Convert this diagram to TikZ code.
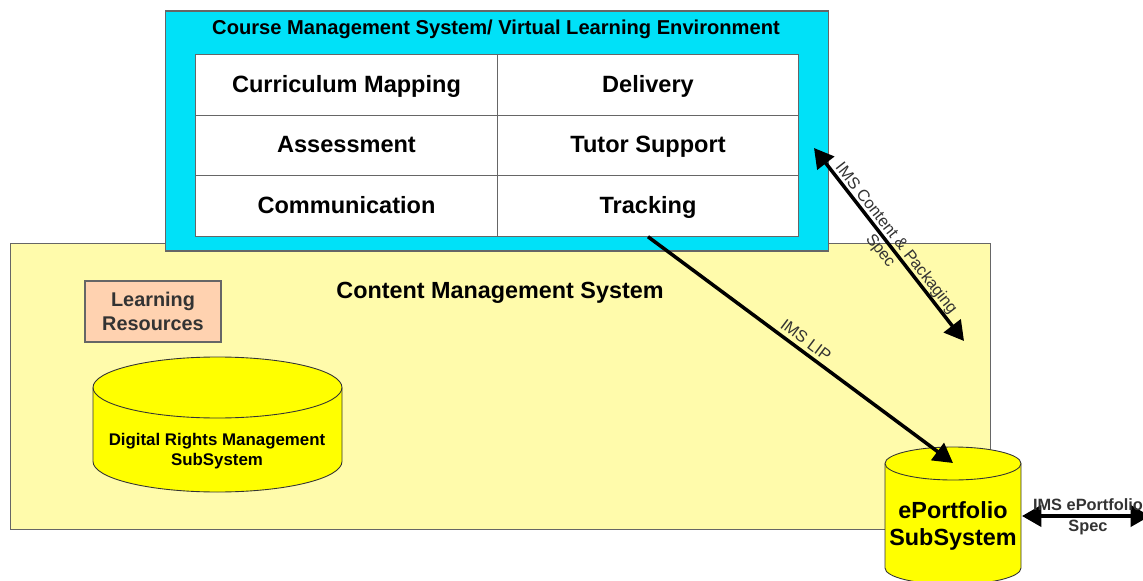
\documentclass[tikz,border=0pt]{standalone}
\usepackage{fontspec}
\setmainfont{Liberation Sans}
\usetikzlibrary{arrows.meta}
\definecolor{cmsblue}{HTML}{00E1F8}
\definecolor{cmspale}{HTML}{FFFBAB}
\definecolor{respeach}{HTML}{FFD2B0}
\definecolor{storeyellow}{HTML}{FFFF00}
\definecolor{edgegrey}{HTML}{666666}
\definecolor{labelgrey}{HTML}{333333}
\tikzset{
	panel/.style={draw=edgegrey,line width=0.6pt,inner sep=0pt},
	cell/.style={panel,fill=white,minimum width=171.6pt,minimum height=34.4pt,text height=10.4pt,text depth=2.4pt,font=\bfseries\fontsize{13.4}{16}\selectfont},
	store/.style={draw=black!80,line width=0.5pt,fill=storeyellow},
	storetext/.style={inner sep=0pt,align=center},
	flow/.style={line width=2pt,{Triangle[length=11pt,width=12pt]}-{Triangle[length=11pt,width=12pt]}},
	flowone/.style={line width=2pt,-{Triangle[length=11pt,width=12pt]}},
	spec/.style={text=labelgrey,align=center,font=\fontsize{9.3}{11.4}\selectfont,inner sep=0pt},
}
% centre x, top, bottom, half width, half height of the lid
\newcommand{\storedrum}[5]{
	\draw [store] (#1-#4,#2+#5) arc [start angle=180,end angle=360,x radius=#4,y radius=#5] -- (#1+#4,#3-#5) arc [start angle=0,end angle=180,x radius=#4,y radius=#5] -- cycle;
	\draw [store,fill=none] (#1-#4,#2+#5) arc [start angle=180,end angle=0,x radius=#4,y radius=#5];
}
\begin{document}
\begin{tikzpicture}[x=0.02cm,y=-0.02cm]
	\useasboundingbox (0,0) rectangle (1143,581);
	% outer boxes
	\node [panel,fill=cmspale,minimum width=558pt,minimum height=163.3pt] (content) at (500.5,386.5) {};
	\node [panel,fill=cmsblue,minimum width=377.8pt,minimum height=136.6pt] (course) at (497,131) {};
	\node [font=\bfseries\fontsize{11.45}{14}\selectfont] (coursetitle) at (496,29.5) {Course Management System/ Virtual Learning Environment};
	\node [font=\bfseries\fontsize{13.3}{15}\selectfont] (contenttitle) at (500,293) {Content Management System};
	% the six cells
	\node [cell] (mapping) at (346.5,85) {Curriculum Mapping};
	\node [cell] (delivery) at (648,85) {Delivery};
	\node [cell] (assessment) at (346.5,145.5) {Assessment};
	\node [cell] (tutor) at (648,145.5) {Tutor Support};
	\node [cell] (communication) at (346.5,206) {Communication};
	\node [cell] (tracking) at (648,206) {Tracking};
	% stores
	\node [panel,fill=respeach,text=labelgrey,minimum width=77.4pt,minimum height=34.7pt,align=center,font=\bfseries\fontsize{11.3}{13.6}\selectfont] (resources) at (153,311.5) {Learning\\Resources};
	\storedrum{217.5}{357}{492}{124.5}{30.5}
	\node [storetext,font=\bfseries\fontsize{9.6}{11.4}\selectfont] (rights) at (217,451) {Digital Rights Management\\SubSystem};
	\storedrum{953}{447}{584.5}{68}{16.5}
	\node [storetext,font=\bfseries\fontsize{13.3}{15.4}\selectfont] (portfolio) at (953,526) {ePortfolio\\SubSystem};
	% connectors
	\coordinate (packstart) at (814,148);
	\coordinate (packend) at (964,341);
	\coordinate (lipend) at (953,463);
	\coordinate (portstart) at (1022,516);
	\coordinate (portend) at (1150,516);
	\draw [flow] (packstart) -- (packend);
	\draw [flowone] (tracking.south) -- (lipend);
	\draw [flow] (portstart) -- (portend);
	\node [spec,rotate=-52] (packlabel) at (888,245) {IMS Content \& Packaging\\Spec};
	\node [spec,rotate=-37] (liplabel) at (806,340) {IMS LIP};
	\node [spec,font=\bfseries\fontsize{9.3}{12}\selectfont] (portlabel) at (1088,517) {IMS ePortfolio\\Spec};
\end{tikzpicture}
\end{document}
